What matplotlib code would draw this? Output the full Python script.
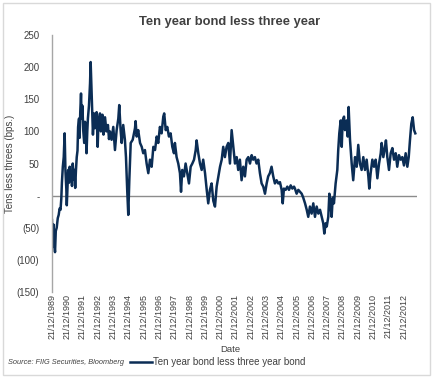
import matplotlib
matplotlib.use("Agg")
import matplotlib.pyplot as plt
from matplotlib.ticker import FuncFormatter, FixedLocator
from matplotlib.patches import Rectangle

plt.rcParams['font.family'] = ['Liberation Sans', 'DejaVu Sans']

# decimal years (from 21/12/1989) and spread in bps
years = [
    1989.97, 1990.02, 1990.07, 1990.12, 1990.17, 1990.22, 1990.28, 1990.35, 1990.41, 1990.47,
    1990.53, 1990.58, 1990.62, 1990.68, 1990.74, 1990.80, 1990.85, 1990.91, 1990.94, 1990.98,
    1991.03, 1991.08, 1991.13, 1991.18, 1991.23, 1991.28, 1991.33, 1991.39, 1991.44, 1991.49,
    1991.54, 1991.59, 1991.64, 1991.68, 1991.74, 1991.78, 1991.82, 1991.87, 1991.91, 1991.96,
    1992.02, 1992.08, 1992.13, 1992.18, 1992.23, 1992.28, 1992.32, 1992.39, 1992.46, 1992.50,
    1992.55, 1992.59, 1992.65, 1992.72, 1992.78, 1992.89, 1992.96, 1993.01, 1993.11, 1993.17,
    1993.27, 1993.34, 1993.44, 1993.53, 1993.63, 1993.70, 1993.76, 1993.87, 1993.98, 1994.09,
    1994.20, 1994.31, 1994.37, 1994.46, 1994.53, 1994.63, 1994.74, 1994.81, 1994.89, 1994.96,
    1995.03, 1995.12, 1995.25, 1995.40, 1995.44, 1995.51, 1995.61, 1995.73, 1995.84, 1995.94,
    1996.05, 1996.16, 1996.27, 1996.38, 1996.49, 1996.60, 1996.71, 1996.82, 1996.92, 1997.03,
    1997.14, 1997.25, 1997.31, 1997.41, 1997.51, 1997.62, 1997.73, 1997.84, 1997.95, 1998.01,
    1998.12, 1998.23, 1998.34, 1998.41, 1998.49, 1998.60, 1998.71, 1998.82, 1998.93, 1999.04,
    1999.15, 1999.26, 1999.37, 1999.43, 1999.54, 1999.65, 1999.76, 1999.86, 1999.98, 2000.09,
    2000.19, 2000.30, 2000.41, 2000.52, 2000.63, 2000.74, 2000.85, 2000.96, 2001.07, 2001.17,
    2001.28, 2001.39, 2001.50, 2001.61, 2001.72, 2001.83, 2001.94, 2002.05, 2002.15, 2002.26,
    2002.37, 2002.48, 2002.59, 2002.70, 2002.81, 2002.92, 2003.03, 2003.13, 2003.24, 2003.35,
    2003.46, 2003.57, 2003.68, 2003.79, 2003.90, 2004.01, 2004.11, 2004.22, 2004.33, 2004.44,
    2004.55, 2004.66, 2004.77, 2004.88, 2004.99, 2005.06, 2005.14, 2005.25, 2005.36, 2005.47,
    2005.58, 2005.69, 2005.80, 2005.86, 2005.97, 2006.08, 2006.19, 2006.30, 2006.40, 2006.52,
    2006.63, 2006.73, 2006.84, 2006.95, 2007.06, 2007.17, 2007.28, 2007.39, 2007.50, 2007.61,
    2007.71, 2007.78, 2007.87, 2007.94, 2008.04, 2008.11, 2008.20, 2008.26, 2008.33, 2008.41,
    2008.52, 2008.63, 2008.69, 2008.76, 2008.85, 2008.92, 2008.98, 2009.07, 2009.13, 2009.24,
    2009.31, 2009.37, 2009.46, 2009.57, 2009.67, 2009.79, 2009.90, 2010.00, 2010.11, 2010.22,
    2010.33, 2010.44, 2010.55, 2010.66, 2010.72, 2010.81, 2010.92, 2011.03, 2011.14, 2011.25,
    2011.36, 2011.47, 2011.53, 2011.64, 2011.75, 2011.81, 2011.90, 2012.01, 2012.12, 2012.23,
    2012.34, 2012.45, 2012.55, 2012.66, 2012.77, 2012.88, 2012.99, 2013.10, 2013.21, 2013.30,
    2013.38, 2013.47, 2013.56, 2013.65, 2013.73,
]
spread = [
    -38, -80, -45, -75, -88, -55, -50, -35, -30, -20,
    -22, -5, 20, 45, 60, 97, 40, 10, -15, 10,
    40, 20, 45, 25, 35, 15, 50, 25, 40, 12,
    40, 60, 70, 107, 120, 90, 130, 159, 120, 140,
    100, 82, 115, 110, 66, 100, 120, 140, 175, 208,
    170, 138, 95, 128, 105, 130, 76, 115, 128, 100,
    126, 95, 122, 100, 110, 88, 100, 87, 107, 71,
    102, 120, 141, 102, 82, 110, 87, 60, 9, -30,
    25, 82, 87, 105, 116, 92, 102, 82, 76, 66,
    71, 50, 35, 56, 45, 76, 71, 92, 82, 107,
    97, 123, 128, 102, 107, 92, 97, 76, 66, 82,
    60, 50, 35, 6, 40, 30, 50, 35, 19, 45,
    50, 56, 71, 86, 66, 50, 40, 56, 35, 9,
    -12, 9, 19, -8, -17, 14, 30, 45, 56, 76,
    60, 76, 82, 50, 102, 76, 50, 60, 40, 56,
    24, 45, 30, 56, 60, 50, 63, 56, 60, 50,
    56, 35, 19, 14, 3, 19, 30, 35, 45, 30,
    19, 24, 19, 21, 9, -12, 11, 9, 14, 9,
    16, 11, 14, 11, 3, 9, 6, 3, -3, -12,
    -22, -33, -17, -28, -12, -33, -17, -28, -22, -33,
    -43, -59, -43, -48, -33, 3, -17, -33, -3, -12,
    19, 40, 71, 97, 117, 76, 117, 123, 102, 117,
    92, 138, 87, 50, 24, 60, 45, 79, 50, 40,
    60, 40, 56, 30, 11, 35, 56, 45, 56, 27,
    50, 66, 82, 60, 76, 86, 60, 40, 66, 74,
    56, 66, 45, 63, 56, 60, 47, 66, 45, 60,
    86, 112, 122, 102, 97,
]

tick_years = list(range(1989, 2013))
tick_pos = [y + 0.97 for y in tick_years]
tick_labels = ['21/12/%d' % y for y in tick_years]

txt = '#404040'

fig = plt.figure(figsize=(4.33, 3.77), dpi=100)
fig.patches.append(Rectangle((0.007, 0.005), 0.986, 0.987, transform=fig.transFigure,
                             fill=False, edgecolor='#D9D9D9', lw=1))

ax = fig.add_axes([0.120, 0.2255, 0.843, 0.6815])
ax.axhline(0, color='#8C8C8C', lw=1.0, zorder=1)
ax.plot(years, spread, color='#0B2D55', lw=1.8, solid_joinstyle='round',
        label='Ten year bond less three year bond', zorder=2)

ax.set_xlim(1989.97, 2013.84)
ax.set_ylim(-150, 250)
ax.yaxis.set_major_locator(FixedLocator(range(-150, 251, 50)))


def fmt(v, pos):
    v = int(round(v))
    if v == 0:
        return '-'
    if v < 0:
        return '(%d)' % -v
    return '%d' % v


ax.yaxis.set_major_formatter(FuncFormatter(fmt))
ax.set_xticks(tick_pos)
ax.set_xticklabels(tick_labels, rotation=90)
ax.tick_params(axis='both', length=0, colors=txt)
ax.tick_params(axis='y', pad=9, labelsize=7)
ax.tick_params(axis='x', pad=1.5, labelsize=6.5)

for s in ['top', 'right', 'bottom']:
    ax.spines[s].set_visible(False)
ax.spines['left'].set_color('#A6A6A6')
ax.spines['left'].set_linewidth(1.0)

ax.set_ylabel('Tens less threes (bps.)', fontsize=7, color=txt, labelpad=1)
fig.text(0.531, 0.073, 'Date', ha='center', va='center', fontsize=6.8, color=txt)
fig.text(0.531, 0.942, 'Ten year bond less three year', ha='center', va='center',
         fontsize=9.3, fontweight='bold', color=txt)
fig.text(0.018, 0.038, 'Source: FIIG Securities, Bloomberg', ha='left', va='center',
         fontsize=5.3, style='italic', color=txt)

fig.legend(loc='center left', bbox_to_anchor=(0.30, 0.039), frameon=False, fontsize=7,
           handlelength=2.3, handletextpad=0.1, borderpad=0, borderaxespad=0,
           labelcolor=txt)

fig.savefig('out.png', dpi=100)
